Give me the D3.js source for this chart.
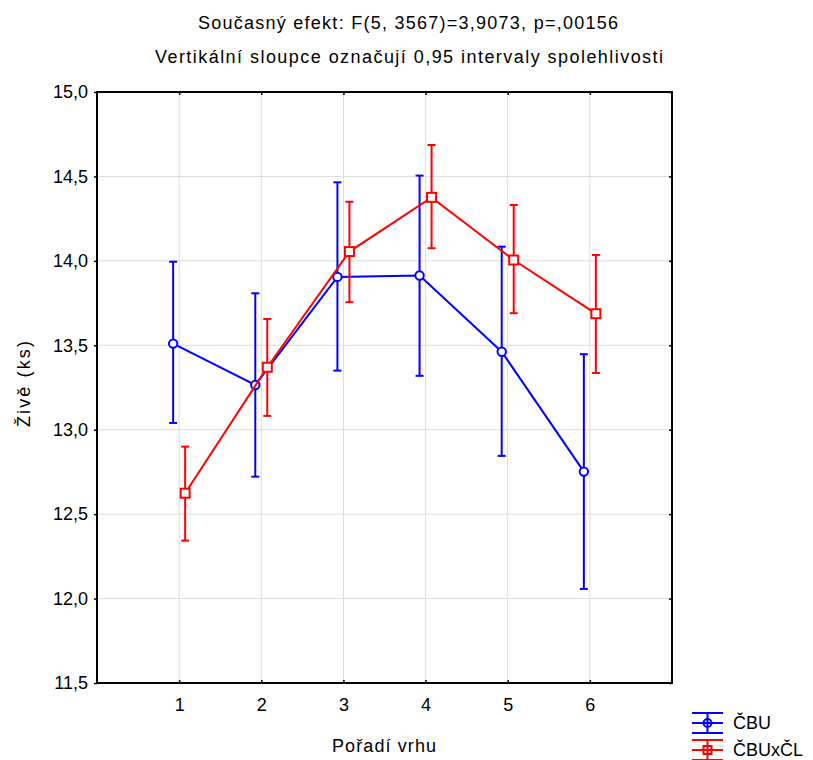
<!DOCTYPE html>
<html>
<head>
<meta charset="utf-8">
<title>Živě (ks) - Pořadí vrhu</title>
<script src="https://d3js.org/d3.v7.min.js"></script>
<style>
body { margin: 0; background: #fff; }
text { font-family: "Liberation Sans", Arial, sans-serif; fill: #000; }
</style>
</head>
<body>
<div id="chart"></div>
<script>
// data
var categories = [1, 2, 3, 4, 5, 6];
var seriesNames = ["ČBU", "ČBUxČL"];
var cbuMean = [13.51, 13.265, 13.905, 13.913, 13.462, 12.752];
var cbuLow = [13.04, 12.722, 13.35, 13.319, 12.845, 12.057];
var cbuHigh = [13.995, 13.808, 14.465, 14.505, 14.084, 13.447];
var clMean = [12.624, 13.37, 14.055, 14.376, 14.005, 13.687];
var clLow = [12.343, 13.082, 13.755, 14.075, 13.69, 13.336];
var clHigh = [12.9, 13.656, 14.35, 14.686, 14.331, 14.035];
var yTicks = [11.5, 12.0, 12.5, 13.0, 13.5, 14.0, 14.5, 15.0];
var titleLines = ["Současný efekt: F(5, 3567)=3,9073, p=,00156",
                  "Vertikální sloupce označují 0,95 intervaly spolehlivosti"];

var width = 813, height = 760;
var pLeft = 97, pRight = 672, pTop = 92, pBottom = 683;

var svg = d3.select("#chart").append("svg")
    .attr("width", width).attr("height", height);

var x = d3.scaleLinear().domain([0, 7]).range([pLeft, pRight]);
var y = d3.scaleLinear().domain([11.5, 15]).range([pBottom, pTop]);

// gridlines
svg.append("g").selectAll("line").data(yTicks.slice(1, -1)).enter().append("line")
    .attr("x1", pLeft).attr("x2", pRight)
    .attr("y1", function(d){ return y(d); }).attr("y2", function(d){ return y(d); })
    .attr("stroke", "#dcdcdc").attr("stroke-width", 1);
svg.append("g").selectAll("line").data(categories).enter().append("line")
    .attr("y1", pTop).attr("y2", pBottom)
    .attr("x1", function(d){ return x(d); }).attr("x2", function(d){ return x(d); })
    .attr("stroke", "#dcdcdc").attr("stroke-width", 1);

// axes
var fmt = function(d){ return d3.format(".1f")(d).replace(".", ","); };
var yAxis = svg.append("g").attr("transform", "translate(" + pLeft + ",0)")
    .call(d3.axisLeft(y).tickValues(yTicks).tickFormat(fmt).tickSize(3).tickPadding(6));
var xAxis = svg.append("g").attr("transform", "translate(0," + pBottom + ")")
    .call(d3.axisBottom(x).tickValues(categories).tickFormat(d3.format("d")).tickSize(-3).tickPadding(15));
var yAxisR = svg.append("g").attr("transform", "translate(" + pRight + ",0)")
    .call(d3.axisRight(y).tickValues(yTicks).tickFormat("").tickSize(-3));
var xAxisT = svg.append("g").attr("transform", "translate(0," + pTop + ")")
    .call(d3.axisTop(x).tickValues(categories).tickFormat("").tickSize(-3));
[yAxis, xAxis, yAxisR, xAxisT].forEach(function(g){
  g.select(".domain").remove();
  g.selectAll("line").attr("stroke", "#000").attr("stroke-width", 1.5);
  g.selectAll("text").style("font-size", "18px").style("font-family", "'Liberation Sans', Arial, sans-serif").attr("fill", "#000");
});
svg.append("rect").attr("x", pLeft).attr("y", pTop)
    .attr("width", pRight - pLeft).attr("height", pBottom - pTop)
    .attr("fill", "none").attr("stroke", "#000").attr("stroke-width", 2);

// series
var series = [
  { name: seriesNames[0], mean: cbuMean, low: cbuLow, high: cbuHigh, color: "#0000ff", off: -6, shape: "circle" },
  { name: seriesNames[1], mean: clMean, low: clLow, high: clHigh, color: "#ff0000", off: 6, shape: "square" }
];

var line = d3.line();
series.forEach(function(s){
  var g = svg.append("g");
  var pts = categories.map(function(c, i){ return [x(c) + s.off, y(s.mean[i])]; });
  g.append("path").attr("d", line(pts)).attr("fill", "none")
    .attr("stroke", s.color).attr("stroke-width", 2);
  categories.forEach(function(c, i){
    var cx = x(c) + s.off;
    g.append("line").attr("x1", cx).attr("x2", cx)
      .attr("y1", y(s.low[i])).attr("y2", y(s.high[i]))
      .attr("stroke", s.color).attr("stroke-width", 2);
    [s.low[i], s.high[i]].forEach(function(v){
      g.append("line").attr("x1", cx - 4).attr("x2", cx + 4)
        .attr("y1", y(v)).attr("y2", y(v))
        .attr("stroke", s.color).attr("stroke-width", 2);
    });
    if (s.shape === "circle") {
      g.append("circle").attr("cx", cx).attr("cy", y(s.mean[i])).attr("r", 4.2)
        .attr("fill", "#fff").attr("stroke", s.color).attr("stroke-width", 2);
    } else {
      g.append("rect").attr("x", cx - 4.5).attr("y", y(s.mean[i]) - 4.5)
        .attr("width", 9).attr("height", 9)
        .attr("fill", "#fff").attr("stroke", s.color).attr("stroke-width", 2);
    }
  });
});

// legend
series.forEach(function(s, i){
  var cy = 723 + i * 27, lx = 692, lw = 31, mx = lx + lw / 2;
  var g = svg.append("g");
  [-10, 0, 10].forEach(function(dy){
    g.append("line").attr("x1", lx).attr("x2", lx + lw)
      .attr("y1", cy + dy).attr("y2", cy + dy)
      .attr("stroke", s.color).attr("stroke-width", 2);
  });
  g.append("line").attr("x1", mx).attr("x2", mx).attr("y1", cy - 10).attr("y2", cy + 10)
    .attr("stroke", s.color).attr("stroke-width", 2);
  if (s.shape === "circle") {
    g.append("circle").attr("cx", mx).attr("cy", cy).attr("r", 4)
      .attr("fill", "none").attr("stroke", s.color).attr("stroke-width", 2);
  } else {
    g.append("rect").attr("x", mx - 4).attr("y", cy - 4).attr("width", 8).attr("height", 8)
      .attr("fill", "none").attr("stroke", s.color).attr("stroke-width", 2);
  }
  g.append("text").attr("x", 733).attr("y", cy + 6).style("font-size", "18px").text(s.name);
});

// titles and axis labels
var titleLen = [420, 508];
svg.append("g").selectAll("text").data(titleLines).enter().append("text")
    .attr("x", function(d, i){ return i === 0 ? 408 : 409; })
    .attr("y", function(d, i){ return 29 + i * 34; })
    .attr("text-anchor", "middle").style("font-size", "18px")
    .attr("textLength", function(d, i){ return titleLen[i]; })
    .attr("lengthAdjust", "spacing")
    .text(function(d){ return d; });
svg.append("text").attr("x", 384).attr("y", 752).attr("text-anchor", "middle")
    .style("font-size", "18px").attr("textLength", 104).attr("lengthAdjust", "spacing")
    .text("Pořadí vrhu");
svg.append("text").attr("transform", "translate(30,384) rotate(-90)")
    .attr("text-anchor", "middle").style("font-size", "18px")
    .attr("textLength", 86).attr("lengthAdjust", "spacing").text("Živě (ks)");
</script>
</body>
</html>
